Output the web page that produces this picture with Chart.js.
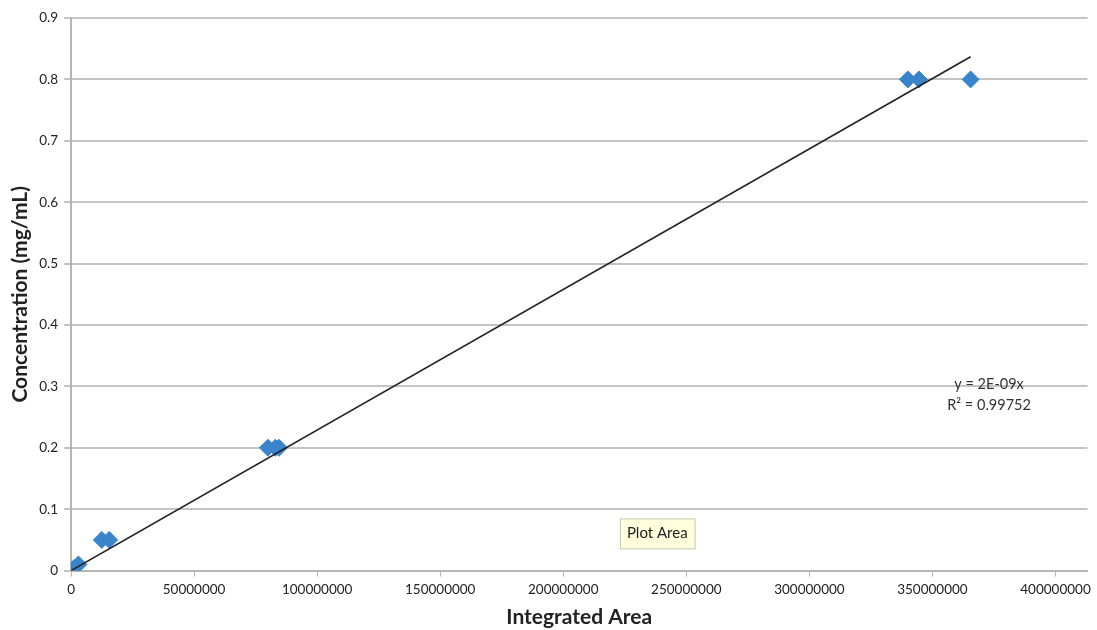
<!DOCTYPE html>
<html>
<head>
<meta charset="utf-8">
<script src="https://cdn.jsdelivr.net/npm/chart.js@4.4.1/dist/chart.umd.min.js"></script>
<style>
  html, body { margin: 0; padding: 0; background: #fff; }
  #wrap { width: 1097px; height: 630px; }
</style>
</head>
<body>
<div id="wrap"><canvas id="grafico"></canvas></div>
<script>
// measured points: integrated area vs concentration
const areas = [0, 1200000, 3000000, 12500000, 15500000, 80000000, 83000000, 84500000, 340000000, 344500000, 365500000];
const concentrations = [0, 0.004, 0.01, 0.05, 0.05, 0.2, 0.2, 0.2, 0.8, 0.8, 0.8];

// linear trendline through origin (y = 2E-09x)
const trendX = [0, 365500000];
const trendY = [0, 0.837];

const yTicks = [0, 0.1, 0.2, 0.3, 0.4, 0.5, 0.6, 0.7, 0.8, 0.9];
const xTickMax = 400000000;
const equationText = ["y = 2E-09x", "R\u00b2 = 0.99752"];

const fonte = "Lato, 'Open Sans', sans-serif";

const pontos = areas.map((a, i) => ({ x: a, y: concentrations[i] }));
const linha = trendX.map((a, i) => ({ x: a, y: trendY[i] }));

// equation label and the "Plot Area" hover hint
const anotacoes = {
  id: "anotacoes",
  afterDraw(chart) {
    const ctx = chart.ctx;
    const sx = chart.scales.x, sy = chart.scales.y;
    ctx.save();
    ctx.font = "14.5px " + fonte;
    ctx.fillStyle = "#333";
    ctx.textAlign = "center";
    ctx.textBaseline = "middle";
    const ex = sx.getPixelForValue(373000000);
    ctx.fillText(equationText[0], ex, sy.getPixelForValue(0.3) - 2);
    ctx.fillText(equationText[1], ex, sy.getPixelForValue(0.3) + 19);

    // tooltip-like box
    const bx = sx.getPixelForValue(223000000), by = sy.getPixelForValue(0.085);
    ctx.font = "15px " + fonte;
    const w = ctx.measureText("Plot Area").width + 14;
    ctx.fillStyle = "#ffffdd";
    ctx.strokeStyle = "#c8c8b0";
    ctx.lineWidth = 1;
    ctx.fillRect(bx, by, w, 30);
    ctx.strokeRect(bx + 0.5, by + 0.5, w, 30);
    ctx.fillStyle = "#222";
    ctx.textAlign = "left";
    ctx.fillText("Plot Area", bx + 7, by + 15);
    ctx.restore();
  }
};

new Chart(document.getElementById("grafico"), {
  type: "scatter",
  data: {
    datasets: [
      {
        label: "Trendline",
        data: linha,
        showLine: true,
        borderColor: "#222",
        borderWidth: 1.6,
        pointRadius: 0,
        order: 1
      },
      {
        label: "Concentration",
        data: pontos,
        pointStyle: "rectRot",
        pointRadius: 8.5,
        backgroundColor: "#3a84cc",
        borderColor: "#3a84cc",
        borderWidth: 1,
        order: 2
      }
    ]
  },
  options: {
    responsive: true,
    maintainAspectRatio: false,
    animation: false,
    layout: { padding: { left: 8, right: 7, top: 18, bottom: 0 } },
    plugins: {
      legend: { display: false },
      tooltip: { enabled: false }
    },
    scales: {
      x: {
        type: "linear",
        min: 0,
        max: 413000000,
        afterBuildTicks(scale) {
          scale.ticks = [];
          for (let v = 0; v <= xTickMax; v += 50000000) scale.ticks.push({ value: v });
        },
        ticks: {
          color: "#222",
          font: { family: fonte, size: 13.5 },
          maxRotation: 0,
          autoSkip: false,
          padding: 5,
          callback: v => String(v)
        },
        grid: {
          drawOnChartArea: false,
          color: "#b5b5b5",
          lineWidth: 1,
          tickLength: 6
        },
        border: { color: "#b5b5b5", width: 2 },
        title: {
          display: true,
          text: "Integrated Area",
          color: "#222",
          font: { family: fonte, size: 21, weight: "bold" },
          padding: { top: 2, bottom: 0 }
        }
      },
      y: {
        min: 0,
        max: 0.9,
        afterBuildTicks(scale) {
          scale.ticks = yTicks.map(v => ({ value: v }));
        },
        ticks: {
          color: "#222",
          font: { family: fonte, size: 13.5 },
          padding: 6,
          callback: v => (v === 0 ? "0" : v.toFixed(1))
        },
        grid: {
          color: "#c4c4c4",
          lineWidth: 2,
          tickLength: 7
        },
        border: { color: "#b5b5b5", width: 2 },
        title: {
          display: true,
          text: "Concentration (mg/mL)",
          color: "#222",
          font: { family: fonte, size: 21, weight: "bold" },
          padding: { top: 0, bottom: 0 }
        }
      }
    }
  },
  plugins: [anotacoes]
});
</script>
</body>
</html>
